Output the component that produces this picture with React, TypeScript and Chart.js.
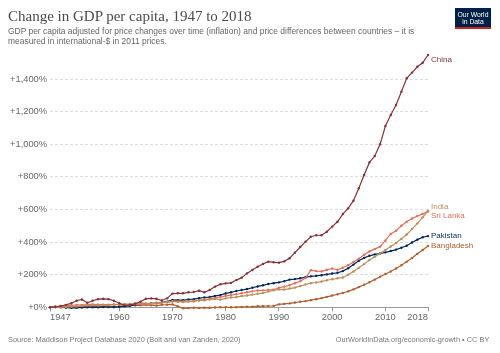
import React, { useEffect, useRef } from "react";
import { Chart, registerables } from "chart.js";

Chart.register(...registerables);

const years = [
  1947, 1948, 1949, 1950, 1951, 1952, 1953, 1954, 1955, 1956, 1957, 1958, 1959, 1960, 1961, 1962, 1963, 1964,
  1965, 1966, 1967, 1968, 1969, 1970, 1971, 1972, 1973, 1974, 1975, 1976, 1977, 1978, 1979, 1980, 1981, 1982,
  1983, 1984, 1985, 1986, 1987, 1988, 1989, 1990, 1991, 1992, 1993, 1994, 1995, 1996, 1997, 1998, 1999, 2000,
  2001, 2002, 2003, 2004, 2005, 2006, 2007, 2008, 2009, 2010, 2011, 2012, 2013, 2014, 2015, 2016, 2017, 2018,
];

const china = [
  0, 3, 8, 15, 25, 40, 48, 28, 40, 50, 52, 50, 40, 25, 12, 14, 22, 35,
  52, 55, 52, 42, 55, 84, 86, 86, 92, 94, 102, 92, 106, 127, 141, 147, 150, 167,
  182, 208, 229, 249, 266, 280, 276, 274, 282, 301, 335, 370, 403, 433, 442, 442, 464, 495,
  525, 572, 607, 654, 730, 812, 889, 928, 1000, 1112, 1180, 1241, 1323, 1405, 1440, 1476, 1500, 1548,
];

const india = [
  0, 1, 0, 2, 4, 5, 9, 11, 12, 11, 14, 13, 17, 18, 20, 21, 23, 28,
  24, 22, 28, 29, 32, 35, 34, 32, 35, 36, 42, 43, 48, 52, 47, 55, 60, 63,
  69, 72, 78, 83, 87, 97, 104, 110, 109, 115, 121, 130, 140, 148, 152, 158, 166, 172,
  178, 183, 200, 220, 242, 265, 290, 310, 330, 352, 373, 395, 420, 447, 480, 515, 552, 592,
];

const sriLanka = [
  0, 3, 6, 9, 12, 14, 15, 16, 18, 17, 16, 16, 17, 18, 17, 18, 18, 19,
  18, 20, 24, 28, 32, 38, 36, 36, 38, 40, 44, 47, 52, 58, 63, 70, 75, 80,
  86, 92, 98, 103, 104, 106, 108, 120, 127, 135, 148, 160, 180, 228, 222, 220, 230, 238,
  230, 243, 258, 278, 298, 322, 343, 357, 372, 410, 450, 470, 500, 525, 545, 560, 573, 588,
];

const pakistan = [
  0, 2, 0, -2, -3, -3, -1, 0, 1, 0, 2, 2, 1, 3, 6, 10, 14, 18,
  22, 24, 26, 30, 35, 45, 44, 44, 48, 50, 56, 60, 63, 70, 75, 85, 92, 100,
  106, 112, 120, 128, 135, 143, 148, 153, 160, 170, 173, 178, 185, 190, 193, 197, 202, 207,
  212, 222, 240, 262, 285, 303, 316, 325, 330, 337, 345, 354, 365, 378, 398, 415, 430, 437,
];

const bangladesh = [
  0, 2, 3, 3, 4, 5, 6, 5, 2, 6, 4, 3, 5, 6, 10, 9, 13, 12,
  14, 13, 10, 15, 16, 18, 6, -6, -5, -2, -4, -2, -3, -1, 0, 0, 0, 1,
  2, 3, 4, 6, 7, 8, 9, 18, 21, 24, 29, 34, 38, 44, 50, 56, 64, 72,
  80, 88, 98, 110, 124, 138, 154, 170, 187, 204, 220, 238, 258, 280, 302, 328, 352, 376,
];

const seriesNames = ["China", "India", "Sri Lanka", "Pakistan", "Bangladesh"];
const seriesValues = [china, india, sriLanka, pakistan, bangladesh];
const seriesColors = ["#883039", "#BC8E5A", "#E56E5A", "#00295B", "#B0602E"];

const xTicks = [1947, 1960, 1970, 1980, 1990, 2000, 2010, 2018];
const yTicks = [0, 200, 400, 600, 800, 1000, 1200, 1400];

const SANS = "'Liberation Sans', Arial, sans-serif";

const endLabels = {
  id: "endLabels",
  afterDatasetsDraw(chart: any) {
    const { ctx, chartArea, scales } = chart;
    const gap = 9.4;
    const items = chart.data.datasets.map((ds: any) => {
      const last = ds.data[ds.data.length - 1];
      return {
        text: ds.label,
        color: ds.borderColor,
        y: Math.max(scales.y.getPixelForValue(last.y), chartArea.top + 5),
      };
    });
    items.sort((a: any, b: any) => a.y - b.y);
    for (let k = 0; k < 20; k++) {
      for (let i = 0; i < items.length - 1; i++) {
        const a = items[i];
        const b = items[i + 1];
        if (b.y - a.y < gap) {
          const mid = (a.y + b.y) / 2;
          a.y = mid - gap / 2;
          b.y = mid + gap / 2;
        }
      }
    }
    ctx.save();
    ctx.font = `8px ${SANS}`;
    ctx.textAlign = "left";
    ctx.textBaseline = "middle";
    items.forEach((it: any) => {
      ctx.fillStyle = it.color;
      ctx.fillText(it.text, chartArea.right + 3, it.y);
    });
    ctx.restore();
  },
};

function App() {
  const canvasRef = useRef<HTMLCanvasElement | null>(null);

  useEffect(() => {
    if (!canvasRef.current) return;
    const datasets = seriesNames.map((name, i) => ({
      label: name,
      data: years.map((yr, j) => ({ x: yr, y: seriesValues[i][j] })),
      borderColor: seriesColors[i],
      backgroundColor: seriesColors[i],
      borderWidth: 1.2,
      pointRadius: 1.2,
      pointBorderWidth: 0,
      pointBackgroundColor: seriesColors[i],
      tension: 0,
      clip: false as any,
    }));
    const chart = new Chart(canvasRef.current, {
      type: "line",
      data: { datasets },
      options: {
        animation: false,
        responsive: false,
        layout: { padding: { left: 0, right: 72, top: 55, bottom: 25.7 } },
        plugins: { legend: { display: false }, tooltip: { enabled: false } },
        scales: {
          x: {
            type: "linear",
            min: 1947,
            max: 2018,
            afterBuildTicks: (s: any) => {
              s.ticks = xTicks.map((v) => ({ value: v }));
            },
            afterFit: (s: any) => {
              s.height = 20;
            },
            grid: { display: true, drawOnChartArea: false, drawTicks: true, tickLength: 4, color: "#999" },
            border: { display: true, color: "#999", width: 1 },
            ticks: {
              align: "inner",
              maxRotation: 0,
              autoSkip: false,
              padding: 1,
              color: "#666",
              font: { family: SANS, size: 9.3 },
              callback: (v: any) => String(v),
            },
          },
          y: {
            min: 0,
            max: 1548,
            afterBuildTicks: (s: any) => {
              s.ticks = yTicks.map((v) => ({ value: v }));
            },
            afterFit: (s: any) => {
              s.width = 50;
            },
            grid: { color: "#dddddd", drawTicks: false, lineWidth: 1 },
            border: { display: false, dash: [3, 2] },
            ticks: {
              padding: 3,
              color: "#666",
              font: { family: SANS, size: 9.3 },
              callback: (v: any) => "+" + Number(v).toLocaleString("en-US") + "%",
            },
          },
        },
      },
      plugins: [endLabels],
    });
    return () => chart.destroy();
  }, []);

  return (
    <div style={{ position: "fixed", left: 0, top: 0, width: 500, height: 353, background: "#fff", overflow: "hidden" }}>
      <canvas ref={canvasRef} width={500} height={353} style={{ position: "absolute", left: 0, top: 0, width: 500, height: 353 }} />
      <div
        style={{
          position: "absolute",
          left: 8,
          top: 7,
          fontFamily: "'Liberation Serif', 'Times New Roman', serif",
          fontSize: 15,
          lineHeight: "18px",
          color: "#4a4a4a",
          whiteSpace: "nowrap",
        }}
      >
        Change in GDP per capita, 1947 to 2018
      </div>
      <div
        style={{
          position: "absolute",
          left: 8,
          top: 25.5,
          fontFamily: SANS,
          fontSize: 8.45,
          lineHeight: "10.8px",
          color: "#666",
          whiteSpace: "nowrap",
        }}
      >
        GDP per capita adjusted for price changes over time (inflation) and price differences between countries – it is
        <br />
        measured in international-$ in 2011 prices.
      </div>
      <div
        style={{
          position: "absolute",
          left: 455,
          top: 8,
          width: 36,
          height: 21,
          background: "#002147",
          borderBottom: "2px solid #ce261e",
          color: "#fff",
          fontFamily: SANS,
          fontSize: 6.8,
          lineHeight: "7.6px",
          textAlign: "center",
          paddingTop: 2.5,
          boxSizing: "border-box",
        }}
      >
        Our World
        <br />
        in Data
      </div>
      <div
        style={{
          position: "absolute",
          left: 8,
          top: 335,
          fontFamily: SANS,
          fontSize: 7.4,
          lineHeight: "10px",
          color: "#777",
          whiteSpace: "nowrap",
        }}
      >
        Source: Maddison Project Database 2020 (Bolt and van Zanden, 2020)
      </div>
      <div
        style={{
          position: "absolute",
          right: 10.7,
          top: 335,
          fontFamily: SANS,
          fontSize: 7.4,
          lineHeight: "10px",
          color: "#777",
          whiteSpace: "nowrap",
          textAlign: "right",
        }}
      >
        OurWorldInData.org/economic-growth • CC BY
      </div>
    </div>
  );
}

export default App;
